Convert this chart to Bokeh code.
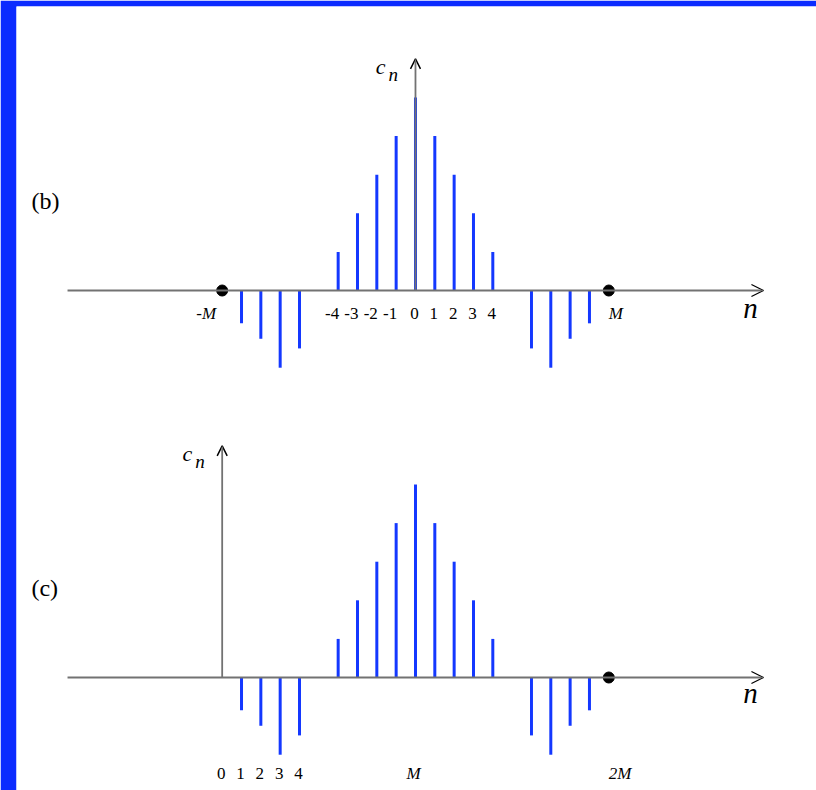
from bokeh.plotting import figure
from bokeh.models import Range1d, Arrow, OpenHead
from bokeh.core.properties import value
from bokeh.embed import file_html
from bokeh.resources import INLINE

# Period half-length
M = 10

# Coefficients c_n of the symmetric sequence on n = -M..M
n_left = [-9, -8, -7, -6]
c_left = [-0.85, -1.25, -2.0, -1.5]
n_mid = [-4, -3, -2, -1, 0, 1, 2, 3, 4]
c_mid = [1, 2, 3, 4, 5, 4, 3, 2, 1]
n_right = [6, 7, 8, 9]
c_right = [-1.5, -2.0, -1.25, -0.85]

n_b = n_left + n_mid + n_right
c_b = c_left + c_mid + c_right
# Same coefficients re-indexed on 0..2M
n_c = [n + M for n in n_b]
c_c = list(c_b)

ticks_b_neg = [-4, -3, -2, -1]
ticks_b_pos = [0, 1, 2, 3, 4]
ticks_c = [0, 1, 2, 3, 4]

# Axis extents in sample units
axis_b = (-18, 18)
axis_c = (-8, 28)
axis_top = 6

STEM = "#1438ff"
FRAME = "#0b2bff"
AXIS = "#727272"
SERIF = value("Liberation Serif")

# pixel scale: 19.33 px per sample, 38.6 px per unit of c_n
p = figure(width=816, height=790, output_backend="svg", toolbar_location=None,
           x_axis_type=None, y_axis_type=None,
           x_range=Range1d(-20.64, 20.745), y_range=Range1d(-12.953, 7.358))
p.extra_x_ranges = {"c": Range1d(-10.64, 30.745)}
p.extra_y_ranges = {"c": Range1d(-2.927, 17.383)}
p.min_border = 0
p.min_border_left = 16
p.min_border_top = 6
p.border_fill_color = FRAME
p.background_fill_color = "white"
p.outline_line_color = None
p.grid.visible = False


def axes(xr, yr, x_lo, x_hi, x0):
    kw = {}
    if xr:
        kw = dict(x_range_name=xr, y_range_name=yr)
    p.add_layout(Arrow(x_start=x_lo, y_start=0, x_end=x_hi, y_end=0,
                       line_color=AXIS, line_width=1.8,
                       end=OpenHead(size=12, line_color="black", line_width=1.3), **kw))
    p.add_layout(Arrow(x_start=x0, y_start=0, x_end=x0, y_end=axis_top,
                       line_color=AXIS, line_width=1.8,
                       end=OpenHead(size=10, line_color="black", line_width=1.5), **kw))


def labels(xs, ys, texts, size, italic=False, align="center", xoff=0, rng=None):
    kw = dict(x_range_name=rng, y_range_name=rng) if rng else {}
    p.text(x=xs, y=ys, text=texts, text_font=SERIF, text_font_size=size,
           text_font_style="italic" if italic else "normal", text_align=align,
           text_baseline="middle", x_offset=xoff, text_color="black", **kw)


# ---- panel (b): -M..M ----
axes(None, None, axis_b[0], axis_b[1], 0)
p.segment(x0=n_b, y0=[0] * len(n_b), x1=n_b, y1=c_b, line_color=STEM, line_width=3)
p.scatter(x=[-M, M], y=[0, 0], size=11, color="black")

labels(ticks_b_neg, [-0.6] * len(ticks_b_neg), [str(t) for t in ticks_b_neg], "17px",
       align="right", xoff=1)
labels(ticks_b_pos, [-0.6] * len(ticks_b_pos), [str(t) for t in ticks_b_pos], "17px", xoff=-1)
labels([-M], [-0.6], ["-M"], "17px", italic=True, align="right", xoff=-6)
labels([M], [-0.6], ["M"], "17px", italic=True, align="left")
labels([17.33], [-0.44], ["n"], "29px", italic=True)
labels([-1.8], [5.8], ["c"], "22px", italic=True)
labels([-1.15], [5.6], ["n"], "19px", italic=True)
labels([-19.87], [2.33], ["(b)"], "24px", align="left")

# ---- panel (c): 0..2M ----
axes("c", "c", axis_c[0], axis_c[1], 0)
p.segment(x0=n_c, y0=[0] * len(n_c), x1=n_c, y1=c_c, line_color=STEM, line_width=3,
          x_range_name="c", y_range_name="c")
p.scatter(x=[2 * M], y=[0], size=11, color="black", x_range_name="c", y_range_name="c")

labels(ticks_c, [-2.49] * len(ticks_c), [str(t) for t in ticks_c], "17px", xoff=-1, rng="c")
labels([M], [-2.49], ["M"], "17px", italic=True, xoff=-2, rng="c")
labels([2 * M], [-2.49], ["2M"], "17px", italic=True, align="left", rng="c")
labels([27.33], [-0.41], ["n"], "29px", italic=True, rng="c")
labels([-1.8], [5.8], ["c"], "22px", italic=True, rng="c")
labels([-1.15], [5.6], ["n"], "19px", italic=True, rng="c")
labels([-9.87], [2.33], ["(c)"], "24px", align="left", rng="c")

open("out.html", "w").write(file_html(p, INLINE))
